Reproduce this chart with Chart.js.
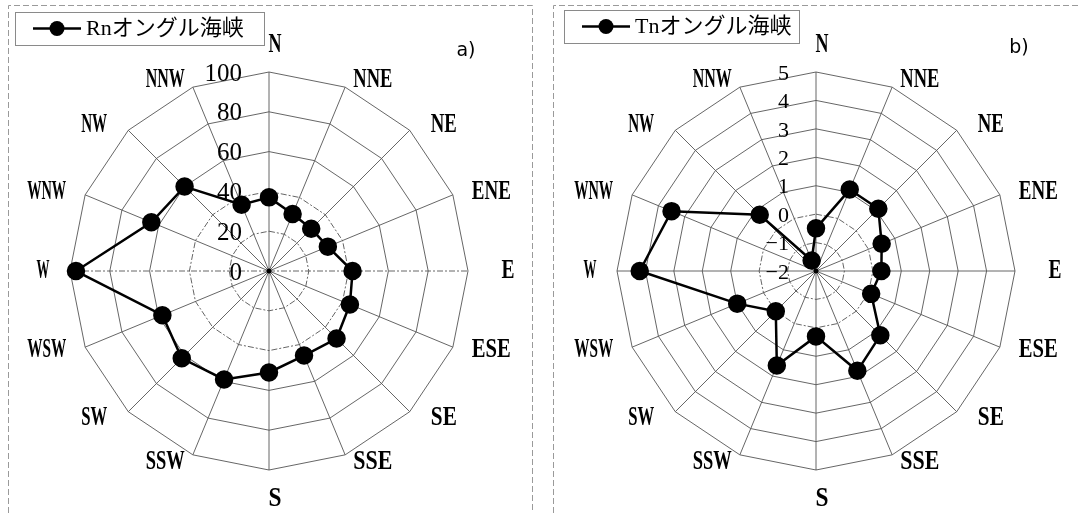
<!DOCTYPE html>
<html>
<head>
<meta charset="utf-8">
<script src="https://cdn.jsdelivr.net/npm/chart.js@4.4.0/dist/chart.umd.min.js"></script>
<style>
  html, body { margin: 0; padding: 0; background: #fff; }
  #wrap { position: relative; width: 1081px; height: 513px; overflow: hidden; background: #fff; }
  canvas.panel { position: absolute; top: 0; }
</style>
</head>
<body>
<div id="wrap">
  <canvas id="chartA" class="panel" width="540" height="513" style="left:0"></canvas>
  <canvas id="chartB" class="panel" width="541" height="513" style="left:540px"></canvas>
</div>
<script>
// Wind directions, clockwise from north
const directions = ['N', 'NNE', 'NE', 'ENE', 'E', 'ESE', 'SE', 'SSE',
                    'S', 'SSW', 'SW', 'WSW', 'W', 'WNW', 'NW', 'NNW'];

// a) Rn by wind direction
const rnValues = [37, 31, 30, 32, 42, 44, 48, 46, 51, 59, 62, 58, 97, 64, 60, 36];
const rnTicks = [0, 20, 40, 60, 80, 100];
const rnLabel = 'Rnオングル海峡';

// b) Tn by wind direction
const tnValues = [-0.5, 1.1, 1.1, 0.5, 0.3, 0.1, 1.2, 1.8, 0.3, 1.6, 0.0, 1.0, 4.2, 3.5, 0.8, -1.6];
const tnTicks = [-2, -1, 0, 1, 2, 3, 4, 5];
const tnLabel = 'Tnオングル海峡';

const SERIF = '"Liberation Serif", "Times New Roman", serif';
const LEGEND_FONT = '22px "Liberation Serif", "Noto Sans CJK JP", serif';

function fmtTick(v) {
  return v < 0 ? '\u2212' + Math.abs(v) : String(v);
}

// Draws panel frame, legend, tick numbers and direction names around the radar
function panelDecor(opt) {
  return {
    id: 'panelDecor',
    beforeDraw(chart) {
      const ctx = chart.ctx;
      ctx.save();
      ctx.fillStyle = '#fff';
      ctx.fillRect(0, 0, chart.width, chart.height);
      // dashed panel frame
      ctx.strokeStyle = '#9a9a9a';
      ctx.lineWidth = 1;
      ctx.setLineDash([6, 3]);
      ctx.beginPath();
      const f = opt.frame;
      ctx.moveTo(f.left + 0.5, chart.height);
      ctx.lineTo(f.left + 0.5, f.top + 0.5);
      ctx.lineTo(f.right + 0.5, f.top + 0.5);
      if (f.right < chart.width) ctx.lineTo(f.right + 0.5, chart.height);
      ctx.stroke();
      ctx.restore();
    },
    beforeDatasetsDraw(chart) {
      const ctx = chart.ctx;
      const scale = chart.scales.r;
      ctx.save();
      ctx.fillStyle = '#000';
      ctx.font = opt.tickFont;
      ctx.textAlign = 'right';
      ctx.textBaseline = 'middle';
      opt.ticks.forEach(v => {
        const d = scale.getDistanceFromCenterForValue(v);
        ctx.fillText(fmtTick(v), scale.xCenter - 27, scale.yCenter - d + 2);
      });
      // hub where the spokes meet
      ctx.beginPath();
      ctx.arc(scale.xCenter, scale.yCenter, 2.5, 0, Math.PI * 2);
      ctx.fill();
      ctx.restore();
    },
    afterDraw(chart) {
      const ctx = chart.ctx;
      const scale = chart.scales.r;
      const R = scale.drawingArea;
      ctx.save();
      ctx.fillStyle = '#000';
      ctx.textAlign = 'center';
      ctx.textBaseline = 'middle';
      ctx.font = 'bold 28px ' + SERIF;
      directions.forEach((name, i) => {
        const p = scale.getPointPosition(i, R + 20);
        const q = scale.getPointPosition(i, R + 8);
        const s = (p.x - scale.xCenter) / (R + 20);
        let x = p.x, y = q.y;
        if (Math.abs(s) < 1e-6) {
          x += 6;
          y += (q.y < scale.yCenter ? -19 : 21);
        } else if (s < -0.999) {
          x -= 7;
        } else {
          x += Math.sign(s) * 20;
        }
        const w = ctx.measureText(name).width;
        const target = 13 * name.length;
        ctx.save();
        ctx.translate(x, y);
        ctx.scale(target / w, 1);
        ctx.fillText(name, 0, 0);
        ctx.restore();
      });

      // legend box
      const L = opt.legend;
      ctx.strokeStyle = '#8a8a8a';
      ctx.lineWidth = 1;
      ctx.setLineDash([]);
      ctx.strokeRect(L.x + 0.5, L.y + 0.5, L.w, L.h);
      const my = L.y + L.h / 2;
      ctx.strokeStyle = '#000';
      ctx.lineWidth = 2.5;
      ctx.beginPath();
      ctx.moveTo(L.x + 18, my);
      ctx.lineTo(L.x + 66, my);
      ctx.stroke();
      ctx.beginPath();
      ctx.arc(L.x + 42, my, 7.5, 0, Math.PI * 2);
      ctx.fill();
      ctx.font = LEGEND_FONT;
      ctx.textAlign = 'left';
      ctx.fillText(chart.data.datasets[0].label, L.x + 71, my + 1);

      // panel tag
      ctx.font = '19px "DejaVu Sans", sans-serif';
      ctx.textAlign = 'center';
      ctx.fillText(opt.tag.text, opt.tag.x, opt.tag.y);
      ctx.restore();
    }
  };
}

function radarConfig(label, values, ticks, pad, dashRings, dashSpokes, decor) {
  return {
    type: 'radar',
    data: {
      labels: directions,
      datasets: [{
        label: label,
        data: values,
        borderColor: '#000',
        backgroundColor: '#000',
        borderWidth: 2.5,
        pointRadius: 8,
        pointHoverRadius: 8,
        pointBackgroundColor: '#000',
        pointBorderColor: '#000',
        fill: false,
        tension: 0
      }]
    },
    options: {
      responsive: false,
      animation: false,
      events: [],
      layout: { padding: pad },
      plugins: { legend: { display: false }, tooltip: { enabled: false } },
      scales: {
        r: {
          min: ticks[0],
          max: ticks[ticks.length - 1],
          ticks: { display: false, stepSize: ticks[1] - ticks[0] },
          pointLabels: { display: false },
          grid: { circular: false, color: '#555', lineWidth: 0.9 },
          border: { dash: c => (dashRings.includes(c.tick && c.tick.value) ? [6, 2, 2, 2] : []) },
          angleLines: {
            color: '#555',
            lineWidth: 0.9,
            borderDash: c => (dashSpokes.includes(c.index) ? [6, 2, 2, 2] : [])
          }
        }
      }
    },
    plugins: [panelDecor(decor)]
  };
}

new Chart(document.getElementById('chartA'), radarConfig(
  rnLabel, rnValues, rnTicks,
  { left: 70, right: 72, top: 72, bottom: 43 },
  [20, 40], [4, 12],
  {
    frame: { left: 8, top: 5, right: 532 },
    legend: { x: 15, y: 12, w: 249, h: 33 },
    tag: { text: 'a)', x: 466, y: 51 },
    ticks: rnTicks,
    tickFont: '25px ' + SERIF
  }
));

new Chart(document.getElementById('chartB'), radarConfig(
  tnLabel, tnValues, tnTicks,
  { left: 77, right: 66, top: 72, bottom: 43 },
  [-1, 0], [],
  {
    frame: { left: 13, top: 5, right: 600 },
    legend: { x: 24, y: 10, w: 235, h: 33 },
    tag: { text: 'b)', x: 479, y: 48 },
    ticks: tnTicks,
    tickFont: '22px ' + SERIF
  }
));
</script>
</body>
</html>
